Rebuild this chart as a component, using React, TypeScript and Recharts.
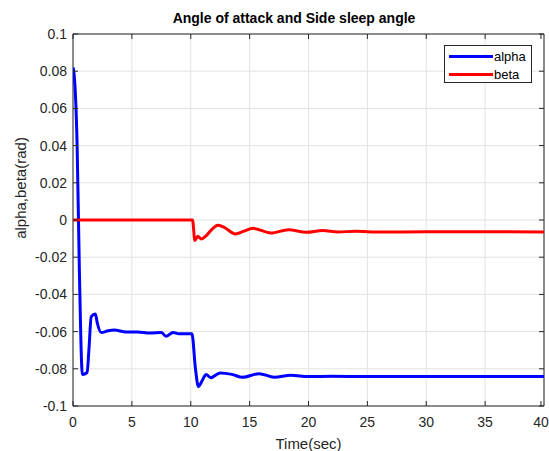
import React from "react";
import {
  LineChart,
  Line,
  XAxis,
  YAxis,
  CartesianGrid,
  ReferenceArea,
} from "recharts";

// time (sec) and value (rad)
const alphaTime = [
  0, 0.1, 0.35, 0.55, 0.8, 1.2, 1.35, 1.55, 1.9, 2.05, 2.4, 3.0, 3.5, 4.5, 5.5,
  6.5, 7.5, 7.9, 8.5, 9.0, 10.1, 10.4, 10.65, 11.0, 11.3, 11.7, 12.5, 13.5,
  14.4, 15.8, 17.1, 18.5, 20, 22, 25, 30, 40,
];
const alphaValue = [
  0.082, 0.078, 0.04, -0.03, -0.083, -0.082, -0.07, -0.052, -0.0505, -0.055,
  -0.0605, -0.0595, -0.0592, -0.0602, -0.0602, -0.0608, -0.0605, -0.0625,
  -0.0605, -0.0612, -0.0612, -0.08, -0.0895, -0.086, -0.083, -0.0848, -0.0822,
  -0.083, -0.0846, -0.0826, -0.0845, -0.0835, -0.0842, -0.084, -0.0842,
  -0.0842, -0.0842,
];

const betaTime = [
  0, 10.15, 10.35, 10.6, 10.9, 11.3, 11.8, 12.3, 12.8, 13.8, 14.5, 15.3, 16.8,
  18.3, 19.8, 21.2, 22.5, 24, 26, 30, 40,
];
const betaValue = [
  0, 0, -0.011, -0.0088, -0.0102, -0.0085, -0.005, -0.0028, -0.0038, -0.0075,
  -0.006, -0.0045, -0.007, -0.0052, -0.0066, -0.0057, -0.0064, -0.0061,
  -0.0065, -0.0063, -0.0064,
];

const xTicks = [0, 5, 10, 15, 20, 25, 30, 35, 40];
const yTicks = [-0.1, -0.08, -0.06, -0.04, -0.02, 0, 0.02, 0.04, 0.06, 0.08, 0.1];

const alphaData = alphaTime.map((t, i) => ({ t, v: alphaValue[i] }));
const betaData = betaTime.map((t, i) => ({ t, v: betaValue[i] }));

const W = 549;
const H = 451;
const TOP = 34;
const BOTTOM = 406;
const LEFT = 73;
const RIGHT = 544;
const AX = "#262626";
const FONT = "'Liberation Sans', Arial, sans-serif";

const fmtY = (v: number) => (Math.abs(v) < 1e-9 ? "0" : String(+v.toFixed(2)));

function XTick(props: any) {
  const { x, payload } = props;
  return (
    <g>
      <line x1={x} x2={x} y1={BOTTOM} y2={BOTTOM - 5} stroke={AX} />
      <line x1={x} x2={x} y1={TOP} y2={TOP + 5} stroke={AX} />
      <text x={x} y={BOTTOM + 16} textAnchor="middle" dominantBaseline="central" fill={AX} fontSize={14} fontFamily={FONT}>
        {payload.value}
      </text>
    </g>
  );
}

function YTick(props: any) {
  const { y, payload } = props;
  return (
    <g>
      <line x1={LEFT} x2={LEFT + 5} y1={y} y2={y} stroke={AX} />
      <line x1={RIGHT} x2={RIGHT - 5} y1={y} y2={y} stroke={AX} />
      <text x={LEFT - 6} y={y} textAnchor="end" dominantBaseline="central" fill={AX} fontSize={14} fontFamily={FONT}>
        {fmtY(payload.value)}
      </text>
    </g>
  );
}

function LegendBox() {
  const items = [
    { name: "alpha", color: "#0000ff" },
    { name: "beta", color: "#ff0000" },
  ];
  return (
    <div
      style={{
        position: "absolute",
        left: 444,
        top: 45,
        border: "1px solid #262626",
        background: "#fff",
        width: 88,
        height: 38,
        boxSizing: "border-box",
        fontFamily: FONT,
        fontSize: 13,
        color: "#000",
        paddingTop: 1,
      }}
    >
      {items.map((it) => (
        <div key={it.name} style={{ display: "flex", alignItems: "center", height: 18 }}>
          <div style={{ width: 44, height: 3, background: it.color, marginLeft: 4, marginRight: 1 }} />
          <span>{it.name}</span>
        </div>
      ))}
    </div>
  );
}

export default function App() {
  return (
    <div style={{ position: "absolute", left: 0, top: 0, width: W, height: H, background: "#fff" }}>
      <LineChart width={W} height={H} margin={{ top: TOP, right: W - RIGHT, left: 0, bottom: 0 }}>
        <CartesianGrid stroke="#e3e3e3" strokeWidth={1} />
        <XAxis
          dataKey="t"
          type="number"
          domain={[0, 40]}
          ticks={xTicks}
          allowDataOverflow
          height={H - BOTTOM}
          tick={<XTick />}
          tickLine={false}
          axisLine={false}
          label={{ value: "Time(sec)", position: "insideBottom", offset: 2, fill: AX, fontSize: 15, fontFamily: FONT }}
        />
        <YAxis
          type="number"
          domain={[-0.1, 0.1]}
          ticks={yTicks}
          allowDataOverflow
          width={LEFT}
          tick={<YTick />}
          tickLine={false}
          axisLine={false}
        />
        <ReferenceArea x1={0} x2={40} y1={-0.1} y2={0.1} fill="none" stroke={AX} strokeWidth={1} ifOverflow="visible" />
        <Line data={alphaData} dataKey="v" name="alpha" stroke="#0000ff" strokeWidth={3} dot={false} isAnimationActive={false} type="monotone" />
        <Line data={betaData} dataKey="v" name="beta" stroke="#ff0000" strokeWidth={3} dot={false} isAnimationActive={false} type="monotone" />
        <text x={294} y={18} textAnchor="middle" dominantBaseline="central" fontWeight="bold" fontSize={14} fontFamily={FONT} fill="#000">
          Angle of attack and Side sleep angle
        </text>
        <text
          x={20}
          y={188}
          textAnchor="middle"
          dominantBaseline="central"
          fontSize={15}
          fontFamily={FONT}
          fill={AX}
          transform="rotate(-90 20 188)"
        >
          alpha,beta(rad)
        </text>
      </LineChart>
      <LegendBox />
    </div>
  );
}
